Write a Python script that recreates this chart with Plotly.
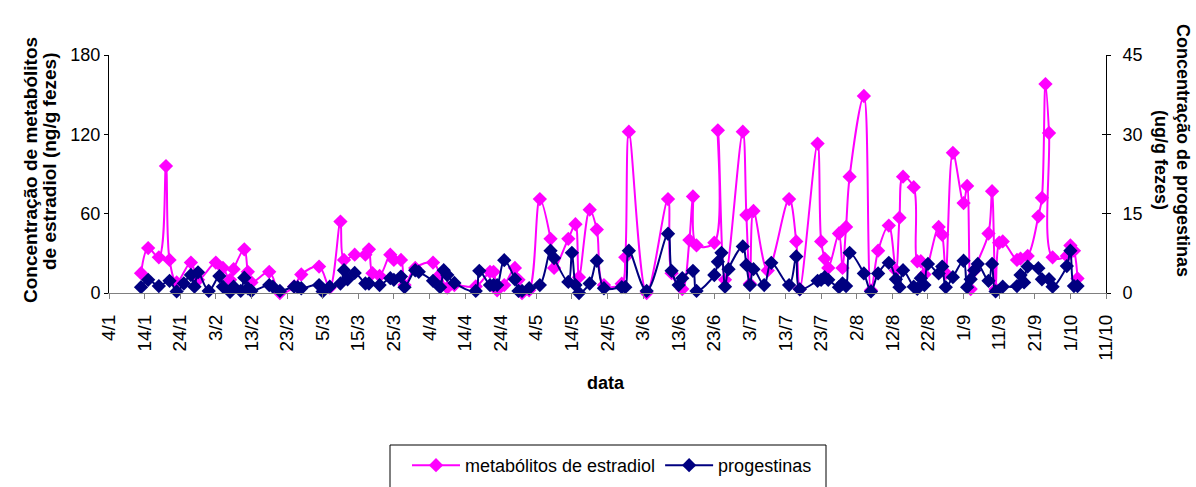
import pandas as pd
import plotly.graph_objects as go

# Sampling dates (day/month, one season) and faecal hormone concentrations
estradiol_dates = [
    "01-13", "01-15", "01-18", "01-20", "01-21", "01-23", "01-27", "01-29",
    "02-03", "02-05", "02-07", "02-08", "02-11", "02-12", "02-13", "02-18",
    "02-21", "02-25", "02-27", "03-04", "03-07", "03-10", "03-11", "03-14",
    "03-17", "03-18", "03-19", "03-21", "03-24", "03-25", "03-27", "03-28",
    "03-31", "04-05", "04-07", "04-09", "04-11", "04-17", "04-21", "04-22",
    "04-23", "04-25", "04-28", "04-29", "04-30", "05-02", "05-05", "05-08",
    "05-09", "05-13", "05-15", "05-16", "05-19", "05-21", "05-23", "05-28",
    "05-29", "05-30", "06-04", "06-10", "06-11", "06-14", "06-16", "06-17",
    "06-18", "06-23", "06-24", "06-26", "07-01", "07-02", "07-03", "07-04",
    "07-08", "07-14", "07-16", "07-17", "07-22", "07-23", "07-24", "07-25",
    "07-28", "07-29", "07-30", "07-31", "08-04", "08-06", "08-08", "08-11",
    "08-13", "08-14", "08-15", "08-18", "08-19", "08-20", "08-21", "08-25",
    "08-26", "08-27", "08-29", "09-01", "09-02", "09-03", "09-04", "09-08",
    "09-09", "09-10", "09-11", "09-12", "09-16", "09-17", "09-19", "09-22",
    "09-23", "09-24", "09-25", "09-26", "09-30", "10-01", "10-02", "10-03",
]
estradiol_ng_g = [
    15, 34, 27, 96, 25, 8, 23, 10,
    23, 19, 10, 18, 33, 16, 8, 16,
    0, 5, 14, 20, 4, 54, 25, 29,
    29, 33, 15, 13, 29, 25, 25, 6,
    19, 23, 14, 4, 6, 5, 16, 16,
    2, 6, 19, 10, 0, 2, 71, 41,
    19, 41, 52, 12, 63, 48, 6, 7,
    27, 122, 0, 71, 15, 3, 40, 73,
    36, 38, 123, 10, 122, 59, 7, 62,
    17, 71, 39, 3, 113, 39, 26, 19,
    45, 19, 50, 88, 149, 2, 32, 51,
    17, 57, 88, 80, 24, 24, 14, 50,
    44, 15, 106, 68, 81, 3, 17, 45,
    77, 3, 38, 39, 25, 26, 28, 58,
    72, 158, 121, 27, 28, 36, 32, 11,
]

progestin_dates = [
    "01-13", "01-15", "01-18", "01-21", "01-23", "01-25", "01-27", "01-28",
    "01-29", "02-01", "02-04", "02-05", "02-07", "02-08", "02-10", "02-11",
    "02-12", "02-13", "02-18", "02-19", "02-21", "02-25", "02-26", "02-27",
    "03-04", "03-05", "03-07", "03-10", "03-11", "03-12", "03-14", "03-17",
    "03-18", "03-21", "03-24", "03-25", "03-27", "03-28", "03-31", "04-01",
    "04-05", "04-07", "04-08", "04-09", "04-11", "04-17", "04-18", "04-21",
    "04-22", "04-23", "04-25", "04-28", "04-29", "04-30", "05-02", "05-05",
    "05-08", "05-09", "05-13", "05-14", "05-15", "05-16", "05-19", "05-21",
    "05-23", "05-28", "05-29", "05-30", "06-04", "06-10", "06-11", "06-13",
    "06-14", "06-17", "06-18", "06-23", "06-24", "06-25", "06-26", "06-27",
    "07-01", "07-02", "07-03", "07-04", "07-07", "07-09", "07-14", "07-16",
    "07-17", "07-22", "07-23", "07-24", "07-25", "07-28", "07-29", "07-30",
    "07-31", "08-04", "08-06", "08-08", "08-11", "08-13", "08-14", "08-15",
    "08-18", "08-19", "08-20", "08-21", "08-22", "08-25", "08-26", "08-27",
    "08-29", "09-01", "09-02", "09-03", "09-04", "09-05", "09-08", "09-09",
    "09-10", "09-12", "09-16", "09-17", "09-18", "09-19", "09-22", "09-23",
    "09-25", "09-26", "09-30", "10-01", "10-02", "10-03",
]
progestin_ug_g = [
    1.1, 2.5, 1.3, 2.3, 0.3, 1.8, 3.4, 1.2,
    3.9, 0.4, 3.2, 1.2, 0.2, 1.2, 0.4, 2.9,
    0.9, 0.4, 1.5, 1.2, 0.4, 1.2, 1.1, 0.9,
    1.5, 0.3, 1.2, 1.8, 4.3, 2.6, 3.8, 1.8,
    1.8, 1.5, 2.8, 2.5, 3.1, 1.1, 4.3, 4.0,
    2.3, 1.1, 4.3, 3.4, 1.9, 0.4, 4.2, 1.5,
    1.5, 1.5, 6.2, 2.6, 0.4, 0.4, 0.9, 1.5,
    8.0, 6.6, 2.1, 7.6, 1.5, 0.0, 1.8, 6.1,
    0.9, 1.1, 1.1, 8.0, 0.4, 11.2, 4.2, 1.5,
    2.8, 4.2, 0.4, 3.4, 5.9, 7.6, 1.2, 4.5,
    8.8, 5.3, 1.5, 4.5, 1.5, 5.7, 1.5, 6.9,
    0.7, 2.3, 2.5, 3.0, 2.5, 1.1, 1.8, 1.3,
    7.6, 3.7, 0.3, 3.7, 5.7, 2.6, 1.1, 4.3,
    1.2, 0.8, 2.8, 1.5, 5.5, 3.7, 5.0, 1.1,
    3.0, 6.1, 1.1, 2.6, 4.3, 5.5, 2.3, 5.5,
    0.3, 1.2, 1.3, 3.4, 2.0, 5.0, 4.7, 2.6,
    2.6, 1.2, 5.1, 8.0, 1.3, 1.3,
]

tick_labels = [
    "4/1", "14/1", "24/1", "3/2", "13/2", "23/2", "5/3", "15/3", "25/3",
    "4/4", "14/4", "24/4", "4/5", "14/5", "24/5", "3/6", "13/6", "23/6",
    "3/7", "13/7", "23/7", "2/8", "12/8", "22/8", "1/9", "11/9", "21/9",
    "1/10", "11/10",
]

YEAR = "2003"
start, end = f"{YEAR}-01-04", f"{YEAR}-10-11"
tick_dates = pd.date_range(start, periods=len(tick_labels), freq="10D")

FONT = "Liberation Sans, Arial, sans-serif"
MAGENTA = "#FF00FF"
NAVY = "#000080"

fig = go.Figure()
fig.add_trace(go.Scatter(
    x=[f"{YEAR}-{d}" for d in estradiol_dates], y=estradiol_ng_g,
    name="metabólitos de estradiol", mode="lines+markers",
    line=dict(color=MAGENTA, width=2, shape="spline", smoothing=1.0),
    marker=dict(symbol="diamond", size=11, color=MAGENTA),
    cliponaxis=False, yaxis="y",
))
fig.add_trace(go.Scatter(
    x=[f"{YEAR}-{d}" for d in progestin_dates], y=progestin_ug_g,
    name="progestinas", mode="lines+markers",
    line=dict(color=NAVY, width=2, shape="spline", smoothing=1.0),
    marker=dict(symbol="diamond", size=11, color=NAVY),
    cliponaxis=False, yaxis="y2",
))

W, H = 1196, 487
L, R, T, B = 109, 1106, 55, 293
pw, ph = R - L, B - T


def px(x):
    return (x - L) / pw


def py(y):
    return (B - y) / ph


fig.update_layout(
    width=W, height=H,
    margin=dict(l=L, r=W - R, t=T, b=H - B, autoexpand=False),
    paper_bgcolor="white", plot_bgcolor="white",
    font=dict(family=FONT, size=18, color="black"),
    showlegend=True,
    legend=dict(
        orientation="h", x=px(612), xanchor="center",
        yref="container", y=1 - 447 / H, yanchor="top",
        borderwidth=0, bgcolor="rgba(0,0,0,0)", font=dict(size=18),
        itemwidth=48, tracegroupgap=0,
    ),
    xaxis=dict(
        type="date", range=[start, end],
        tickvals=tick_dates, ticktext=tick_labels, tickangle=-90,
        tickfont=dict(size=19), ticks="outside", ticklen=5, tickcolor="#808080",
        showline=True, linecolor="#808080", linewidth=1,
        showgrid=False, zeroline=False, ticklabelstandoff=8, automargin=False,
    ),
    yaxis=dict(
        range=[0, 180], tickvals=[0, 60, 120, 180],
        ticks="outside", ticklen=4, tickcolor="black",
        showline=True, linecolor="black", linewidth=1,
        showgrid=False, zeroline=False, tickfont=dict(size=18), automargin=False,
    ),
    yaxis2=dict(
        range=[0, 45], tickvals=[0, 15, 30, 45], overlaying="y", side="right",
        ticks="outside", ticklen=4, tickcolor="black",
        showline=True, linecolor="black", linewidth=1,
        showgrid=False, zeroline=False, tickfont=dict(size=18),
        ticklabelstandoff=8, automargin=False,
    ),
    yaxis3=dict(
        range=[0, 45], tickvals=[0, 15, 30, 45], overlaying="y", side="right",
        ticks="inside", ticklen=4, tickcolor="black", showticklabels=False,
        showline=False, showgrid=False, zeroline=False, automargin=False,
    ),
)
# empty trace so the inner tick marks of the right axis are drawn
fig.add_trace(go.Scatter(x=[], y=[], yaxis="y3", showlegend=False))

# legend frame, open at the bottom edge of the page
fig.add_shape(
    type="rect", xref="paper", yref="paper",
    x0=px(390), x1=px(826), y0=py(445), y1=py(500),
    line=dict(color="black", width=1), fillcolor="rgba(0,0,0,0)",
)

annots = [
    ("Concentração de metabólitos", 30, 170, -90, 19),
    ("de estradiol (ng/g fezes)", 49, 162, -90, 19),
    ("Concentração de progestinas", 1183, 150, 90, 18),
    ("(ug/g fezes)", 1161, 160, 90, 18),
]
for text, x, y, ang, size in annots:
    fig.add_annotation(
        text=f"<b>{text}</b>", x=px(x), y=py(y), xref="paper", yref="paper",
        xanchor="center", yanchor="middle", textangle=ang, showarrow=False,
        font=dict(family=FONT, size=size, color="black"),
    )
fig.add_annotation(
    text="<b>data</b>", x=px(606), y=py(383), xref="paper", yref="paper",
    xanchor="center", yanchor="middle", showarrow=False,
    font=dict(family=FONT, size=18, color="black"),
)

fig.write_html("out.html", config={"displayModeBar": False})
